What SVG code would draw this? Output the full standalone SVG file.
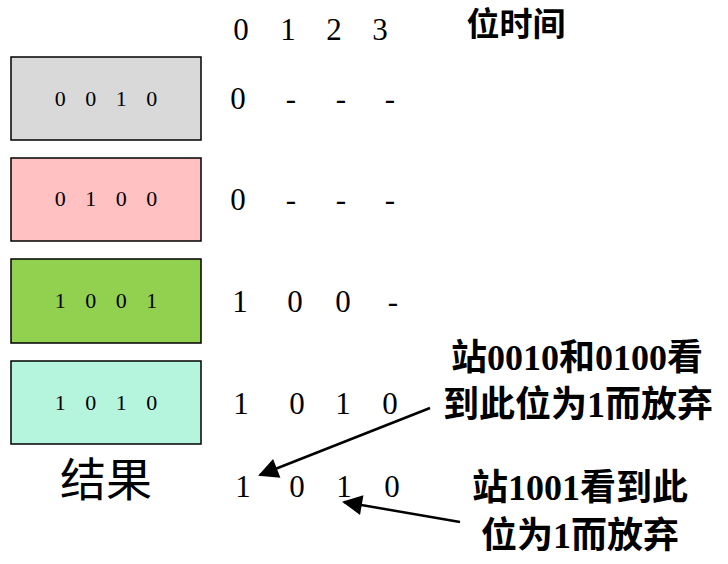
<svg xmlns="http://www.w3.org/2000/svg" width="728" height="564" viewBox="0 0 728 564">
<style>
.box{stroke:#000;stroke-width:1.5}
.b{font-family:"Liberation Serif",serif;font-size:22px;text-anchor:middle;word-spacing:14px}
.d{font-family:"Liberation Serif",serif;font-size:31px;text-anchor:middle}
.c{font-family:"Liberation Serif","Noto Sans CJK SC",serif;font-size:36px;font-weight:bold;text-anchor:middle}
</style>
<defs><marker id="ah" viewBox="0 0 10 10" refX="9" refY="5" markerWidth="11" markerHeight="8" orient="auto" markerUnits="strokeWidth"><path d="M0,0L10,5L0,10z"/></marker></defs>
<rect width="728" height="564" fill="#fff"/>
<g id="n1"><rect class="box" x="11" y="57" width="190" height="83" fill="#d9d9d9"/><text class="b" x="106" y="106">0 0 1 0</text></g>
<g id="n2"><rect class="box" x="11" y="158" width="190" height="83" fill="#ffc1c1"/><text class="b" x="106" y="206">0 1 0 0</text></g>
<g id="n3"><rect class="box" x="11" y="259" width="190" height="84" fill="#92d050"/><text class="b" x="106" y="308">1 0 0 1</text></g>
<g id="n4"><rect class="box" x="11" y="361" width="190" height="83" fill="#b5f5dd"/><text class="b" x="106" y="410">1 0 1 0</text></g>
<g id="table">
<text class="d" x="241" y="40">0</text><text class="d" x="288" y="40">1</text><text class="d" x="334" y="40">2</text><text class="d" x="380" y="40">3</text>
<text class="c" x="516" y="36" style="font-size:33px">位时间</text>
<text class="d" x="238" y="109">0</text><text class="d" x="291" y="109">-</text><text class="d" x="341" y="109">-</text><text class="d" x="390" y="109">-</text>
<text class="d" x="238" y="210">0</text><text class="d" x="291" y="210">-</text><text class="d" x="341" y="210">-</text><text class="d" x="390" y="210">-</text>
<text class="d" x="240" y="312">1</text><text class="d" x="295" y="312">0</text><text class="d" x="343" y="312">0</text><text class="d" x="393" y="312">-</text>
<text class="d" x="241" y="414">1</text><text class="d" x="297" y="414">0</text><text class="d" x="343" y="414">1</text><text class="d" x="390" y="414">0</text>
<text x="106" y="496" style="font-family:'Noto Sans CJK SC',sans-serif;font-size:46px;text-anchor:middle">结果</text>
<text class="d" x="243" y="497">1</text><text class="d" x="297" y="497">0</text><text class="d" x="344" y="497">1</text><text class="d" x="392" y="497">0</text>
</g>
<g id="labels">
<text class="c" x="577" y="370">站0010和0100看</text>
<text class="c" x="578" y="417">到此位为1而放弃</text>
<text class="c" x="580" y="500">站1001看到此</text>
<text class="c" x="580" y="548">位为1而放弃</text>
</g>
<g id="connectors" stroke="#000" stroke-width="2.5" fill="none">
<line x1="430" y1="408" x2="260" y2="475" marker-end="url(#ah)"/>
<line x1="460" y1="522" x2="344" y2="502" marker-end="url(#ah)"/>
</g>
</svg>
